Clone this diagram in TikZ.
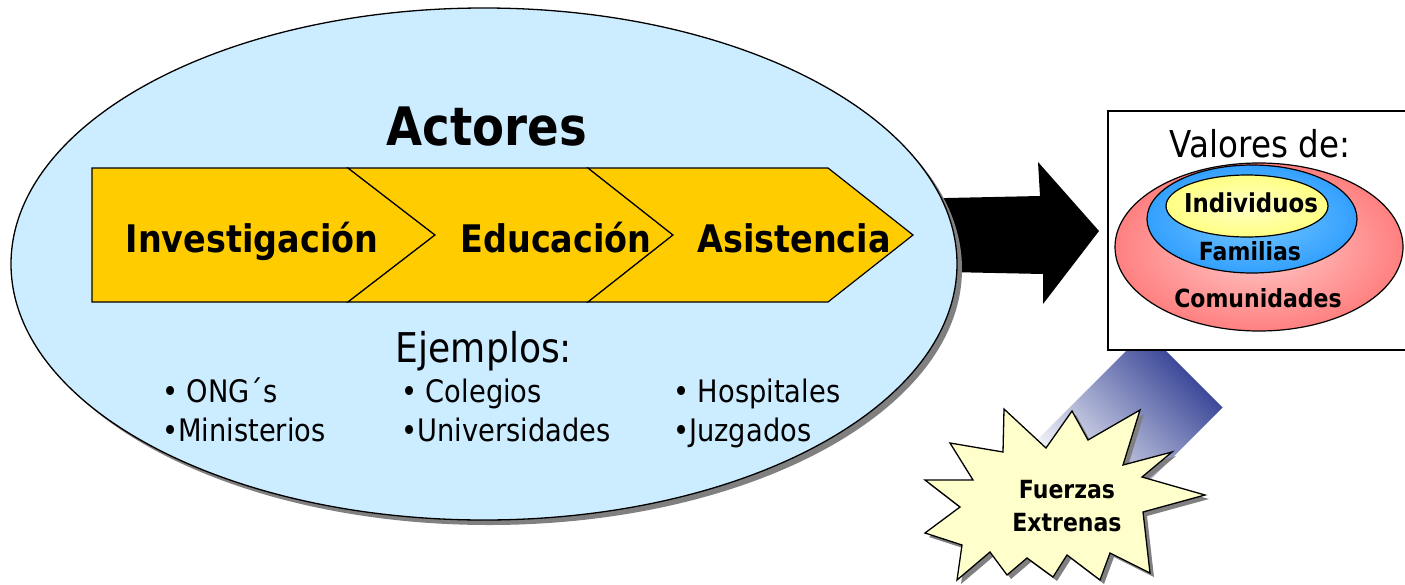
\documentclass[tikz,border=0pt]{standalone}
\usepackage{fontspec}
\setmainfont{DejaVu Sans}[FakeStretch=0.88]
\usetikzlibrary{shadings}
\definecolor{ellblue}{RGB}{204,236,255}
\definecolor{chev}{RGB}{255,204,0}
\definecolor{navyb}{RGB}{43,57,144}
\definecolor{staryel}{RGB}{255,255,204}
\definecolor{shadowg}{RGB}{128,128,128}
\tikzset{
  bigtxt/.style={font=\fontsize{53}{60}\selectfont\bfseries, inner sep=0pt, anchor=base},
  chevtxt/.style={font=\fontsize{38}{44}\selectfont\bfseries, inner sep=0pt, anchor=base},
  regtxt/.style={font=\fontsize{41}{46}\selectfont, inner sep=0pt, anchor=base},
  bultxt/.style={font=\fontsize{31}{35}\selectfont, inner sep=0pt, anchor=base west},
  smallbold/.style={font=\fontsize{25}{30}\selectfont\bfseries, inner sep=0pt, anchor=base},
  chevron/.style={fill=chev, draw=black, line width=1.2pt, line join=miter},
}
\begin{document}
\begin{tikzpicture}[x=1pt,y=-1pt]
\useasboundingbox (0,0) rectangle (1405,584);
\fill[white] (0,0) rectangle (1405,584);

% black block arrow (behind ellipse)
\fill[black] (900,199) -- (1040,196) -- (1038,162) -- (1099,231) -- (1043,304) -- (1043,274) -- (900,271) -- cycle;

% big ellipse with shadow
\fill[shadowg] (489,269) ellipse [x radius=473, y radius=256];
\draw[fill=ellblue, line width=1.3pt] (484,264) ellipse [x radius=473, y radius=256];
\coordinate (ell) at (484,264);

% chevrons
\draw[chevron] (92,168) -- (348,168) -- (435,235) -- (348,302) -- (92,302) -- cycle;
\draw[chevron] (348,168) -- (588,168) -- (673,235) -- (588,302) -- (348,302) -- (435,235) -- cycle;
\draw[chevron] (588,168) -- (828,168) -- (913,235) -- (828,302) -- (588,302) -- (673,235) -- cycle;

\node[bigtxt] (actores) at (487,145) {Actores};
\node[chevtxt] (inv) at (252,252) {Investigación};
\node[chevtxt] (edu) at (556,252) {Educación};
\node[chevtxt] (asi) at (794,252) {Asistencia};

\node[regtxt] (ejem) at (484,362) {Ejemplos:};
\node[bultxt] (b1) at (162,402) {• ONG´s};
\node[bultxt] (b2) at (162,441) {•Ministerios};
\node[bultxt] (b3) at (401,402) {• Colegios};
\node[bultxt] (b4) at (401,441) {•Universidades};
\node[bultxt] (b5) at (673,402) {• Hospitales};
\node[bultxt] (b6) at (673,441) {•Juzgados};

% blue gradient arrow (behind box and star)
\path[top color=navyb, bottom color=white, shading angle=-45]
  (1146,331) -- (1222.5,407.5) -- (1115,515) -- (1038,439) -- cycle;

% box
\draw[fill=white, line width=1.5pt] (1108,111) rectangle (1410,350);
\node[regtxt, font=\fontsize{37}{42}\selectfont] (valores) at (1260,157) {Valores de:};

% nested ellipses
\shade[inner color=red!20, outer color={rgb,255:red,255;green,128;blue,128}] (1259,247) ellipse [x radius=144, y radius=84];
\draw[line width=1.2pt] (1259,247) ellipse [x radius=144, y radius=84];
\shade[inner color={rgb,255:red,120;green,200;blue,255}, outer color={rgb,255:red,51;green,160;blue,255}] (1252,219) ellipse [x radius=105, y radius=54];
\draw[line width=1.2pt] (1252,219) ellipse [x radius=105, y radius=54];
\shade[inner color={rgb,255:red,255;green,255;blue,200}, outer color={rgb,255:red,255;green,255;blue,130}] (1247,206) ellipse [x radius=81, y radius=31];
\draw[line width=1.2pt] (1247,206) ellipse [x radius=81, y radius=31];

\node[smallbold, font=\fontsize{26}{30}\selectfont\bfseries] (indiv) at (1251,212) {Individuos};
\node[smallbold] (fam) at (1250,260) {Familias};
\node[smallbold] (com) at (1258,307) {Comunidades};

% star with shadow
\def\starpath{(1004,409) -- (1046,448) -- (1072,411) -- (1088,440) -- (1140,410) -- (1123,465) -- (1172,452) -- (1142,477) -- (1205,495) -- (1143,512) -- (1150,573) -- (1110,553) -- (1100,580) -- (1067,555) -- (1053,577) -- (1027,558) -- (1007,575) -- (990,552) -- (957,580) -- (962,545) -- (925,533) -- (960,507) -- (925,480) -- (973,480) -- (950,443) -- (1003,452) -- cycle}
\begin{scope}[shift={(4,4)}]
\fill[shadowg] \starpath;
\end{scope}
\draw[fill=staryel, line width=1.3pt, line join=miter] \starpath;
\node[smallbold] (fuer) at (1067,498) {Fuerzas};
\node[smallbold] (extr) at (1067,531) {Extrenas};
\end{tikzpicture}
\end{document}
